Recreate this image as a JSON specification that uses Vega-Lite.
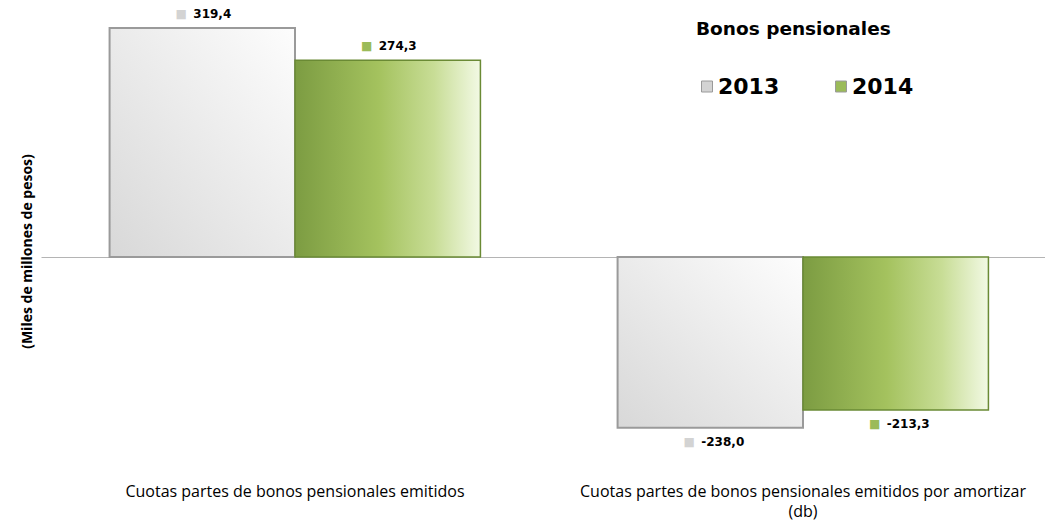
{
  "$schema": "https://vega.github.io/schema/vega-lite/v6.json",
  "width": 1016,
  "height": 450,
  "autosize": "none",
  "padding": {"left": 41, "top": 20, "right": 0, "bottom": 53},
  "background": "white",
  "config": {"view": {"stroke": null}, "font": "Open Sans"},
  "data": {
    "values": [
      {"cat": "Cuotas partes de bonos pensionales emitidos", "year": "2013", "value": 319.4, "label": "319,4"},
      {"cat": "Cuotas partes de bonos pensionales emitidos", "year": "2014", "value": 274.3, "label": "274,3"},
      {"cat": "Cuotas partes de bonos pensionales emitidos por amortizar|(db)", "year": "2013", "value": -238.0, "label": "-238,0"},
      {"cat": "Cuotas partes de bonos pensionales emitidos por amortizar|(db)", "year": "2014", "value": -213.3, "label": "-213,3"}
    ]
  },
  "encoding": {
    "x": {
      "field": "cat",
      "type": "nominal",
      "sort": null,
      "scale": {"paddingInner": 0.27, "paddingOuter": 0.135},
      "axis": {
        "title": null,
        "domain": false,
        "ticks": false,
        "labelAngle": 0,
        "labelFont": "Open Sans",
        "labelFontSize": 16,
        "labelColor": "#000000",
        "labelPadding": 13,
        "labelLimit": 700,
        "labelLineHeight": 20,
        "labelExpr": "split(datum.label, '|')"
      }
    },
    "xOffset": {"field": "year", "type": "nominal", "scale": {"domain": ["2013", "2014"]}},
    "y": {
      "field": "value",
      "type": "quantitative",
      "scale": {"domain": [-297, 330.5], "nice": false, "zero": false},
      "axis": {
        "values": [0],
        "grid": true,
        "gridColor": "#b4b4b4",
        "gridWidth": 1,
        "labels": false,
        "ticks": false,
        "domain": false,
        "title": "(Miles de millones de pesos)",
        "titleFont": "Open Sans",
        "titleFontSize": 14,
        "titleFontWeight": "bold",
        "titleColor": "#000000",
        "titlePadding": 7,
        "titleY": 231
      }
    }
  },
  "layer": [
    {
      "transform": [{"filter": "datum.year == '2013'"}],
      "mark": {
        "type": "bar",
        "stroke": "#9a9a9a",
        "strokeWidth": 2,
        "color": {
          "gradient": "linear",
          "x1": 0, "y1": 1, "x2": 1, "y2": 0,
          "stops": [
            {"offset": 0, "color": "#d8d8d8"},
            {"offset": 1, "color": "#fdfdfd"}
          ]
        }
      }
    },
    {
      "transform": [{"filter": "datum.year == '2014'"}],
      "mark": {
        "type": "bar",
        "stroke": "#6a8a34",
        "strokeWidth": 1.5,
        "color": {
          "gradient": "linear",
          "x1": 0, "y1": 0, "x2": 1, "y2": 0,
          "stops": [
            {"offset": 0, "color": "#7c9c42"},
            {"offset": 0.45, "color": "#a4c25e"},
            {"offset": 0.75, "color": "#c8dd96"},
            {"offset": 1, "color": "#f2f9e4"}
          ]
        }
      }
    },
    {
      "transform": [{"filter": "datum.value > 0"}],
      "mark": {"type": "text", "font": "DejaVu Sans", "fontWeight": "bold", "fontSize": 12, "align": "left", "baseline": "middle", "dx": -9, "dy": -14, "color": "#000000"},
      "encoding": {"text": {"field": "label"}}
    },
    {
      "transform": [{"filter": "datum.value < 0"}],
      "mark": {"type": "text", "font": "DejaVu Sans", "fontWeight": "bold", "fontSize": 12, "align": "left", "baseline": "middle", "dx": -9, "dy": 14, "color": "#000000"},
      "encoding": {"text": {"field": "label"}}
    },
    {
      "transform": [{"filter": "datum.value > 0"}],
      "mark": {"type": "text", "font": "DejaVu Sans", "fontSize": 12, "align": "center", "baseline": "middle", "dx": -21, "dy": -14},
      "encoding": {
        "text": {"value": "■"},
        "color": {
          "field": "year",
          "type": "nominal",
          "scale": {"domain": ["2013", "2014"], "range": ["#d3d3d3", "#9bbb59"]},
          "legend": {
            "orient": "none",
            "legendX": 655,
            "legendY": 0,
            "direction": "horizontal",
            "title": "Bonos pensionales",
            "titleFont": "DejaVu Sans",
            "titleFontSize": 18.5,
            "titleFontWeight": "bold",
            "titleColor": "#000000",
            "titleLimit": 500,
            "titlePadding": 37,
            "labelFont": "DejaVu Sans",
            "labelFontSize": 22,
            "labelFontWeight": "bold",
            "labelColor": "#000000",
            "labelOffset": 0,
            "labelLimit": 200,
            "symbolType": "square",
            "symbolSize": 121,
            "symbolStrokeColor": "#9a9a9a",
            "symbolStrokeWidth": 1,
            "columnPadding": 50
          }
        }
      }
    },
    {
      "transform": [{"filter": "datum.value < 0"}],
      "mark": {"type": "text", "font": "DejaVu Sans", "fontSize": 12, "align": "center", "baseline": "middle", "dx": -21, "dy": 14},
      "encoding": {
        "text": {"value": "■"},
        "color": {"field": "year", "type": "nominal"}
      }
    }
  ]
}
